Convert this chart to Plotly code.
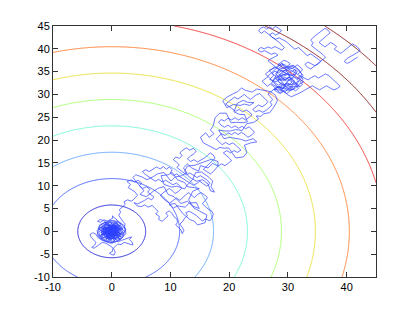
import numpy as np
import plotly.graph_objects as go

# ---- data ----
contour_levels = [5.78, 11.56, 17.34, 23.12, 28.9, 34.68, 40.46, 46.24, 52.02, 57.8]
level_colors = ["rgb(40,40,215)", "rgb(70,95,255)", "rgb(100,145,255)", "rgb(110,245,255)",
                "rgb(140,255,150)", "rgb(195,255,70)", "rgb(255,210,55)", "rgb(255,105,55)",
                "rgb(240,50,50)", "rgb(135,25,25)"]
x_ticks = [-10, 0, 10, 20, 30, 40]
x_ticklabels = ["-10", "0", "10", "20", "30", "40"]
y_ticks = [-10, -5, 0, 5, 10, 15, 20, 25, 30, 35, 40, 45]
y_ticklabels = ["-10", "-5", "0", "5", "10", "15", "20", "25", "30", "35", "40", "45"]

# random-walk path in segments (x, y)
walk_core = [(0,0),(0.5,0.3),(0.2,0.8),(-0.3,0.5),(-0.6,0.9),(-1.0,0.4),(-0.6,-0.1),(-1.1,-0.5),(-0.7,-0.9),
    (-0.2,-0.6),(0.3,-1.0),(0.7,-0.6),(1.2,-0.9),(1.5,-0.4),(1.1,0.1),(1.4,0.6),(0.9,0.9),(0.5,1.4),(0.0,1.1),
    (-0.5,1.5),(-0.9,1.1),(-1.4,1.3),(-1.7,0.8),(-1.3,0.2),(-1.8,-0.1),(-1.5,-0.7),(-1.9,-1.1),(-1.3,-1.4),
    (-0.8,-1.6),(-0.4,-1.2),(0.1,-1.5),(0.5,-1.9),(0.9,-1.4),(1.4,-1.6),(1.8,-1.1),(2.0,-0.5),(1.7,0.1),
    (1.9,0.7),(1.5,1.2),(1.0,1.5),(0.6,1.9),(0.1,1.6),(-0.3,2.0),(-0.8,1.7),(-1.2,2.0),(-1.6,1.6),(-2.1,1.2),
    (-2.3,0.6),(-1.9,0.3),(-2.2,-0.3),(-2.0,-0.9),(-1.6,-1.5),(-1.1,-1.9),(-0.6,-2.0),(-0.1,-1.8),(0.3,-1.3),
    (0.0,-0.8),(0.4,-0.4),(0.0,-0.1),(-0.4,-0.4),(-0.8,-0.2),(-0.5,0.2),(-0.1,0.4),(0.3,0.0),(0.8,0.2),
    (0.6,-0.2),(1.0,-0.3),(0.8,-1.0),(0.4,-0.7),(-0.1,-1.1),(-0.5,-0.8),(-0.9,-1.2),(-1.3,-0.9),(-1.0,-0.3),
    (-1.4,0.1),(-1.0,0.7),(-0.6,0.5),(-0.2,0.9),(0.3,0.6),(0.7,0.9),(1.1,0.5),(0.8,0.0),(1.3,-0.2),(1.6,0.3),
    (1.2,0.9),(0.7,1.2),(0.2,1.3),(-0.2,1.6),(-0.6,1.3),(-1.0,1.6),(-1.3,0.9),(-1.7,0.4),(-1.5,-0.3),
    (-1.2,-1.1),(-0.7,-1.4),(-0.3,-2.0),(0.2,-2.2),(0.7,-1.8)]

walk_core_tangle = [(-1.2,0.9),(1.5,0.4),(-0.8,-1.3),(0.4,1.7),(1.2,-1.5),(-1.9,0.2),(0.9,1.0),(-0.5,-1.9),
    (-1.6,1.1),(1.8,-0.6),(-0.2,0.3),(-2.1,-1.0),(1.0,1.6),(0.3,-1.1),(-1.1,1.8),(1.6,-1.2),(-1.4,-0.3),
    (0.6,0.8),(-0.7,-0.6),(1.9,0.5),(-0.4,1.2),(-1.8,-1.6),(0.8,-0.4),(-0.1,1.9),(1.3,-0.1),(-1.0,-1.8),
    (0.2,0.5),(-1.5,0.6),(1.4,1.3),(0.0,-1.5),(-2.0,0.9),(1.1,-0.9),(-0.6,0.1),(0.5,-1.6),(-1.3,1.5),
    (1.7,0.9),(-0.9,-0.9),(0.1,1.2),(-1.7,-0.5),(1.2,0.2),(-0.3,-1.4),(0.8,1.9),(-1.1,0.3),(0.6,-0.8),
    (-0.5,1.0),(1.5,-1.8),(-1.2,-1.2),(0.3,0.0),(-0.8,1.4),(1.0,-0.2),(-1.6,-0.8),(0.4,1.4),(1.8,-0.3),
    (-0.2,-0.9),(-1.4,1.0),(0.9,-1.2),(-0.4,0.6),(1.3,0.7),(-1.0,-0.4),(0.0,-1.9),(-1.9,-0.2),(0.7,0.4),
    (-0.6,1.8),(1.6,-0.8),(-1.2,0.0),(0.2,-0.3),(0.7,-1.8)]

walk_core_outer = [(-2.2,0.5),(-1.2,1.9),(0.2,2.3),(1.6,1.7),(2.3,0.4),(1.9,-1.3),(0.6,-2.4),(-1.0,-2.2),
    (-2.3,-1.2),(-2.5,0.2),(-1.6,1.0),(-0.4,2.4),(1.1,2.2),(2.2,1.2),(2.4,-0.5),(1.3,-2.0),(-0.2,-2.5),
    (-1.7,-1.8),(-2.4,-0.5),(-2.0,1.5),(-0.8,2.1),(0.9,1.8),(2.0,0.2),(1.1,-1.2),(-0.4,-1.6),(-1.4,-0.1),
    (-0.5,1.1),(0.9,0.4),(0.2,-0.9),(-1.1,-0.6),(-0.2,0.7),(0.7,-1.8)]

walk_excursions = [(1.1,-2.3),(1.6,-2.0),(2.2,-1.7),(2.8,-1.4),(3.4,-1.2),(3.0,-1.8),(3.5,-2.4),(3.6,-3.0),
    (3.1,-2.8),(2.6,-2.7),(2.1,-2.4),(1.6,-2.9),(1.0,-2.8),(0.6,-3.3),(0.2,-3.8),(0.1,-4.4),(-0.4,-4.8),
    (0.0,-5.1),(0.4,-5.2),(0.6,-4.6),(0.4,-4.0),(0.0,-3.4),(-0.5,-3.0),(-1.0,-2.6),(-1.6,-2.4),(-2.1,-2.8),
    (-2.6,-3.2),(-3.0,-3.7),(-3.4,-3.5),(-2.9,-3.0),(-2.7,-2.4),(-3.1,-1.9),(-3.5,-1.3),(-3.7,-0.7),
    (-3.2,-0.3),(-2.7,-0.6),(-2.4,-1.3),(-1.9,-1.8),(-1.4,-2.1),(-0.9,-2.3),(-0.4,-2.5),(0.1,-2.6),
    (0.5,-2.2),(0.2,-1.6),(-0.2,-1.4),(-0.6,-1.0),(-0.3,-0.3),(0.2,0.2),(0.6,0.5),(0.2,1.0),(-0.4,1.2),
    (-0.9,1.9),(-1.4,2.4),(-2.0,2.6),(-2.4,2.2),(-1.9,2.0),(-1.3,2.5),(-0.7,2.3),(-0.2,2.6),(0.2,2.9),
    (0.1,3.4),(0.5,3.0),(0.9,2.5),(1.2,2.0),(1.6,1.5),(1.2,1.1),(0.9,1.4),(0.5,1.0),(0.1,0.6),(-0.3,0.1),
    (-0.7,-0.5),(-1.2,-0.2),(-0.9,0.3),(-0.4,0.7),(0.0,0.3),(0.4,-0.2),(0.9,-0.6),(1.3,-1.2),(1.7,-0.8),
    (2.1,-0.2),(2.4,0.4),(2.1,1.0),(2.3,1.6),(1.9,2.2),(1.5,2.8),(1.2,3.5),(1.5,4.2),(1.3,4.8),(1.8,5.3),
    (2.3,5.9),(2.1,6.5),(2.7,6.9),(3.4,6.6),(3.9,7.2),(4.4,7.9)]

walk_lower_band = [(4.0,8.6),(3.4,9.1),(2.8,9.6),(3.2,10.3),(2.6,10.9),(3.3,11.3),(3.9,10.8),(4.5,11.2),
    (5.1,10.6),(4.7,10.0),(5.3,9.4),(5.9,9.8),(6.5,9.2),(6.1,8.6),(6.7,8.1),(7.2,7.5),(6.8,6.9),(6.2,7.3),
    (5.6,6.8),(5.0,6.4),(4.4,6.0),(3.8,6.3),(4.3,5.6),(5.0,5.4),(5.6,5.8),(6.2,5.3),(6.9,5.7),(7.4,5.0),
    (7.9,4.4),(7.5,3.8),(8.1,3.3),(8.0,2.6),(8.6,2.2),(9.1,2.8),(9.6,3.4),(9.2,4.0),(9.8,4.5),(10.3,3.9),
    (10.6,3.2),(11.1,2.7),(11.2,2.0),(10.9,1.4),(11.3,0.8),(11.8,0.3),(12.0,-0.5),(12.3,0.2),(12.0,0.9),
    (11.6,1.6),(12.1,2.2),(12.4,2.9),(12.9,3.4),(12.6,4.1),(13.2,4.4),(13.8,4.0),(14.4,3.5),(14.9,2.9),
    (15.4,2.3),(16.0,2.7),(16.7,2.3),(17.1,3.0),(17.3,3.8),(17.0,4.5),(16.4,4.9),(15.9,5.5),(15.4,6.1),
    (15.9,6.7),(16.3,7.4),(15.8,8.0),(15.2,8.5),(14.6,8.1),(14.1,7.4),(13.6,7.9),(13.1,8.5),(12.6,8.0),
    (12.1,7.4),(11.6,6.8),(11.0,7.3),(10.4,6.8),(9.9,6.2),(9.3,6.6),(8.8,7.2),(8.3,7.8),(8.7,8.4),(9.2,8.9),
    (9.8,9.4),(10.3,8.9),(10.8,8.3),(11.4,8.8),(11.9,9.4),(11.5,10.1),(11.0,10.6),(10.4,10.2),(9.8,10.7),
    (9.2,11.2),(8.6,10.8),(8.0,11.4),(7.4,11.0),(6.8,11.5),(6.3,12.1),(5.7,12.5),(5.2,13.1),(5.8,13.5),
    (6.4,13.1),(7.0,13.6),(7.6,14.1),(8.2,13.7),(8.8,14.2),(9.3,13.6),(9.8,14.1),(10.3,13.5),(10.0,12.8),
    (10.5,12.2),(11.1,12.6),(11.6,12.0),(12.2,11.5),(12.8,11.1),(13.4,10.6),(13.9,10.1),(14.5,10.5),
    (15.0,11.0),(15.6,10.4),(16.2,9.9),(16.7,10.5),(16.3,11.2),(15.7,11.7),(15.1,12.2),(14.5,11.8),
    (13.9,12.3),(13.3,12.8),(12.7,12.4),(12.1,12.9),(11.6,13.5),(11.1,14.0),(11.5,14.6),(11.0,15.2),
    (10.5,15.7),(10.9,16.3),(11.5,16.0),(12.0,16.6),(11.6,17.2),(12.1,17.8),(12.7,18.3),(13.3,17.8),
    (13.9,18.2),(14.4,17.6),(14.0,17.0),(13.4,16.5),(12.9,15.9),(13.4,15.3),(14.0,15.7),(14.6,15.2),
    (15.2,15.6),(15.8,16.1),(16.3,16.6),(16.8,17.2),(17.3,16.7),(17.6,16.0),(17.1,15.4),(16.6,14.8),
    (16.1,14.2),(15.6,13.6),(16.2,13.1),(16.8,12.6),(17.3,13.1),(17.7,13.7),(18.1,14.3)]

walk_lower_revisit = [(17.2,14.9),(16.4,13.9),(15.1,14.4),(14.8,13.2),(13.6,13.9),(12.9,14.8),(12.2,13.9),
    (12.8,12.9),(11.9,12.2),(10.8,11.9),(10.1,11.0),(9.4,12.1),(8.9,12.9),(7.8,12.6),(7.1,12.0),(6.0,11.3),
    (5.2,11.9),(4.1,12.4),(3.6,11.8),(4.6,10.2),(5.5,8.9),(4.8,8.1),(5.9,7.6),(7.1,8.8),(8.0,9.5),(8.9,9.8),
    (9.6,8.1),(10.6,7.6),(11.8,6.1),(12.9,6.6),(13.7,5.6),(14.9,5.0),(14.4,6.3),(13.2,6.2),(12.5,5.3),
    (11.2,5.6),(10.5,5.1),(9.8,5.9),(10.8,6.1),(11.5,4.9),(12.1,3.9),(13.3,2.6),(14.1,2.2),(14.6,1.4),
    (15.9,1.9),(16.2,3.6),(15.1,4.3),(14.0,5.1),(13.1,6.9),(13.8,8.8),(14.9,9.4),(14.1,9.6),(12.9,9.8),
    (12.4,10.7),(11.2,11.3),(10.3,12.9),(9.6,12.4),(8.4,12.2),(8.9,10.3),(10.2,9.7),(11.1,9.9),(12.4,9.3),
    (12.9,10.2),(13.8,11.4),(14.3,12.9),(15.3,13.0),(16.6,11.8),(17.2,11.0),(16.9,9.8),(17.5,8.6),
    (16.8,8.9),(16.4,10.4),(15.5,11.3),(14.4,11.0),(13.2,11.9),(12.4,13.2),(12.9,14.3),(14.2,14.5),
    (15.2,14.9),(16.1,15.4),(17.0,15.8),(18.1,15.3),(18.1,14.3)]

walk_mid_band = [(18.7,14.8),(19.3,14.4),(19.8,15.0),(20.4,15.5),(20.0,16.1),(19.5,16.6),(19.0,17.2),
    (19.6,17.7),(20.2,17.2),(20.8,17.7),(21.4,17.3),(22.0,17.8),(21.6,18.4),(21.1,18.9),(20.6,19.4),
    (20.0,19.0),(19.4,19.5),(18.8,19.0),(18.3,19.6),(17.8,20.2),(18.2,20.8),(18.7,21.4),(19.3,21.0),
    (19.8,21.6),(20.4,21.2),(21.0,21.7),(21.5,21.2),(22.1,21.7),(22.7,21.2),(23.2,20.6),(23.8,21.1),
    (24.3,21.7),(23.9,22.3),(23.4,22.9),(22.8,22.5),(22.2,23.0),(21.6,22.6),(21.0,23.1),(20.4,22.7),
    (19.8,23.3),(19.2,22.8),(18.6,23.3),(18.2,23.9),(18.6,24.5),(19.2,24.2),(19.8,24.8),(20.4,24.4),
    (21.0,24.9),(21.6,24.4),(22.2,24.9),(22.8,24.4),(23.4,24.9),(23.9,25.5),(23.5,26.1),(22.9,26.6),
    (22.3,26.2),(21.7,26.7),(21.1,26.3),(20.5,26.8),(19.9,27.3),(19.4,27.9),(19.9,28.4),(20.4,28.9),
    (20.9,29.4),(21.5,29.0),(22.1,29.5),(22.6,30.0),(23.1,29.4),(23.6,28.9),(24.1,29.4),(24.6,29.9),
    (25.2,30.2),(25.7,29.6),(26.2,29.0),(26.6,28.4),(26.2,27.8),(25.6,27.3),(25.0,27.7),(24.5,27.2),
    (24.0,26.7),(24.5,26.2),(25.1,26.5),(25.7,26.1),(26.3,26.5),(26.8,27.1),(27.3,27.7),(27.0,28.3),
    (27.4,28.9),(27.0,29.5),(26.6,30.1),(27.1,30.6)]

walk_mid_revisit = [(25.9,30.9),(24.7,31.2),(23.9,30.5),(22.8,30.9),(22.1,31.4),(21.4,30.6),(20.6,30.1),
    (19.6,29.4),(18.9,28.6),(19.6,27.1),(20.7,27.8),(21.9,27.6),(22.6,27.9),(23.5,27.6),(24.2,28.2),
    (23.1,28.3),(22.4,28.7),(21.4,28.1),(20.8,26.2),(21.8,25.6),(22.6,25.6),(23.1,24.0),(22.3,23.8),
    (21.3,23.9),(20.3,23.8),(19.5,25.9),(18.4,25.9),(17.6,24.9),(17.3,23.2),(16.8,22.2),(17.4,21.4),
    (16.6,20.6),(16.0,21.6),(15.1,20.6),(15.6,19.4),(16.9,18.6),(17.8,17.9),(18.4,18.4),(19.2,18.2),
    (19.9,18.3),(21.1,16.1),(22.4,16.3),(23.0,17.2),(22.6,18.9),(23.7,19.4),(24.7,19.6),(24.1,20.3),
    (22.8,19.8),(21.9,20.2),(21.0,20.4),(20.1,20.6),(19.1,20.3),(18.2,22.2),(19.2,22.0),(20.2,22.0),
    (21.1,22.3),(22.2,22.1),(23.0,23.6),(24.2,23.9),(25.0,24.6),(24.6,25.3),(25.4,25.2),(25.9,25.8),
    (26.9,26.0),(27.6,27.2),(28.2,28.6),(27.9,29.8),(27.1,30.6)]

walk_cluster_tangle = [(28.3,31.8),(29.2,31.3),(29.6,32.4),(30.7,32.1),(31.1,33.0),(30.2,33.7),(29.4,33.2),
    (28.6,34.0),(29.7,34.5),(30.8,34.2),(31.4,35.3),(30.4,35.9),(29.5,35.2),(28.4,35.4),(27.9,34.5),
    (28.7,33.5),(28.0,32.8),(26.9,33.3),(27.6,34.2),(26.8,35.3),(27.9,35.9),(28.9,36.7),(29.7,36.0),
    (30.9,36.4),(31.9,35.4),(32.4,34.3),(31.6,33.6),(32.7,32.8),(31.9,32.2),(31.3,31.4),(30.4,30.9),
    (29.5,31.0),(28.6,30.4),(28.0,31.2),(27.6,31.1),
    (29.0,32.0),(27.8,33.6),(30.2,34.8),(31.8,33.0),(29.4,30.5),(27.2,32.4),(28.6,35.6),(31.0,36.2),
    (32.6,34.2),(30.8,31.0),(28.3,31.6),(26.6,34.0),(29.0,36.9),(30.5,33.5),(32.0,31.8),(29.8,31.6),
    (28.2,34.0),(29.9,35.7),(31.5,34.6),(30.0,32.9),(28.9,30.9),(27.6,31.1)]

walk_cluster = [(28.1,30.6),(28.7,30.2),(29.3,30.7),(29.8,30.2),(30.3,30.7),(30.8,31.2),
    (31.3,30.8),(31.8,31.3),(31.5,31.9),(31.0,32.4),(30.4,32.1),(29.9,32.6),(29.4,32.1),(28.9,32.5),
    (28.4,32.0),(27.9,32.5),(27.4,33.0),(27.9,33.5),(28.5,33.2),(29.0,33.7),(29.6,33.3),(30.1,33.8),
    (30.7,33.4),(31.2,33.9),(31.7,33.4),(32.2,33.9),(32.6,33.3),(32.1,32.8),(32.5,32.2),(32.0,31.7),
    (31.5,32.3),(30.9,32.8),(30.4,33.3),(29.8,32.9),(29.3,33.4),(28.8,33.0),(28.3,33.6),(27.8,34.1),
    (27.3,34.6),(27.8,35.1),(28.4,34.7),(28.9,35.2),(29.5,34.8),(30.0,35.3),(30.6,34.9),(31.1,35.4),
    (31.6,35.0),(31.2,34.4),(30.6,34.1),(30.1,34.5),(29.5,34.1),(29.0,34.6),(28.5,34.2),(29.0,33.9),
    (29.6,33.7),(30.2,33.2),(30.7,32.7),(30.2,32.2),(29.6,31.7),(29.0,31.2),(28.5,31.7),(28.0,31.3),
    (27.5,31.8),(27.0,32.3),(26.5,31.8),(26.0,32.3),(25.6,32.9),(26.1,33.4),(26.6,33.9),(26.2,34.5),
    (26.7,35.0),(27.2,35.5),(27.7,36.0),(28.3,35.6),(28.8,36.1),(29.4,35.7),(29.9,36.2),(30.4,36.7),
    (29.9,37.2),(29.3,37.5),(28.8,37.0),(28.3,36.6),(28.8,36.3),(29.4,36.6),(30.0,36.0),(30.5,35.6),
    (31.1,36.0),(31.6,36.5),(32.1,36.0),(32.5,35.4),(32.1,34.9),(31.6,34.4),(32.2,34.0),(32.8,33.6),
    (33.4,33.2),(34.0,33.7),(34.6,34.1),(35.2,33.6),(35.8,34.1),(36.4,34.5),(37.0,34.1),(37.5,33.5),
    (37.9,32.9),(38.5,32.4),(38.9,31.8),(38.4,31.3),(37.8,31.0),(37.2,31.4),(36.6,31.9),(36.0,31.5),
    (35.4,31.0),(34.8,31.4),(34.2,31.9),(33.6,31.5),(33.0,31.0),(32.4,30.6),(31.8,30.2),(31.2,29.8),
    (30.6,29.5),(30.0,29.9),(29.5,30.4),(29.0,30.8),(28.6,31.4),(29.1,31.9),(29.7,32.3),(30.3,31.8),
    (30.8,31.5),(30.3,31.2),(29.8,31.5),(29.3,32.0),(28.8,32.4),(28.3,32.9),(28.8,33.4),(29.4,33.0),
    (29.9,33.5),(30.4,34.0),(29.9,34.4),(29.3,34.8),(28.7,35.3),(28.1,35.8),(27.6,36.4),(27.1,36.9),
    (26.6,37.4),(27.1,37.8),(27.7,38.2),(28.3,38.6)]

walk_top = [(27.8,39.1),(27.2,38.8),(26.6,39.2),(26.0,39.6),(25.4,39.3),(24.9,39.8),(25.4,40.3),(26.0,40.0),
    (26.6,40.4),(27.2,40.1),(27.8,40.5),(28.4,40.1),(29.0,39.7),(29.4,40.3),(29.0,40.9),(28.5,41.4),
    (28.0,41.9),(27.5,42.4),(27.0,42.9),(26.5,43.4),(26.0,43.9),(25.5,43.4),(25.0,43.9),(25.3,44.5),
    (25.9,44.8),(26.4,44.3),(26.9,44.8),(27.4,44.4),(27.9,44.9),(28.4,44.5),(28.9,44.0),(28.5,43.4),
    (27.9,43.0),(27.4,43.5),(26.9,43.1),(27.3,42.5),(27.9,42.1),(28.5,42.4),(29.1,42.0),(29.7,41.6),
    (30.2,41.0),(30.7,40.4),(31.2,39.9),(31.8,40.3),(32.3,39.7),(32.8,39.1),(33.3,38.5),(33.9,38.9),
    (34.5,38.4),(35.0,37.8),(35.6,37.3),(35.2,36.7),(34.6,36.3),(34.0,36.7),(33.4,37.1),(32.9,36.6),
    (33.3,36.0),(33.9,35.6),(34.4,36.1),(34.9,36.6),(35.4,37.1),(35.9,37.6),(36.4,38.1),(36.0,38.7),
    (35.5,39.2),(35.0,39.7),(34.5,40.2),(34.0,40.7),(34.3,41.3),(33.9,41.9),(34.3,42.5),(34.8,43.0),
    (35.3,43.5),(35.8,44.0),(36.3,44.5),(36.8,44.1),(37.2,43.5),(36.7,43.0),(36.2,42.5),(35.7,42.0),
    (35.3,41.4),(35.8,40.9),(36.3,40.4),(36.8,40.9),(37.3,41.4),(37.8,41.0),(38.3,40.5),(37.9,39.9),
    (38.4,39.4),(39.0,39.0),(39.5,39.5),(40.0,40.0),(40.5,40.6),(41.0,41.1),(41.5,40.7),(42.0,40.2),
    (42.3,39.6),(41.8,39.1),(41.2,38.7),(40.6,38.3),(40.0,37.8),(39.6,37.2),(40.1,36.8),(40.7,37.2),
    (41.3,37.7),(41.9,38.2)]

walk = (walk_core + walk_core_tangle + walk_core_outer + walk_excursions + walk_lower_band
        + walk_lower_revisit + walk_mid_band + walk_mid_revisit + walk_cluster_tangle + walk_cluster + walk_top)
walk_x = [p[0] for p in walk]
walk_y = [p[1] for p in walk]

# ---- contour field (distance from the origin) ----
gx = np.linspace(-10, 45, 441)
gy = np.linspace(-10, 45, 441)
GX, GY = np.meshgrid(gx, gy)
Z = np.sqrt(GX ** 2 + GY ** 2)

n = len(contour_levels)
colorscale = [[i / (n - 1), c] for i, c in enumerate(level_colors)]

fig = go.Figure()
fig.add_trace(go.Contour(
    x=gx, y=gy, z=Z,
    contours=dict(coloring="lines", start=contour_levels[0], end=contour_levels[-1],
                  size=contour_levels[1] - contour_levels[0], showlabels=False),
    line=dict(width=1.0),
    colorscale=colorscale, zmin=contour_levels[0], zmax=contour_levels[-1],
    showscale=False, hoverinfo="skip",
))
fig.add_trace(go.Scatter(
    x=walk_x, y=walk_y, mode="lines",
    line=dict(color="rgb(45,65,255)", width=0.7),
    showlegend=False, hoverinfo="skip",
))

axis_common = dict(showgrid=False, zeroline=False, showline=True, mirror="ticks",
                   linecolor="#333333", linewidth=1, ticks="inside", ticklen=5,
                   tickcolor="#333333",
                   tickfont=dict(family="Liberation Sans, Arial", size=11, color="black"))
fig.update_layout(
    width=407, height=304,
    margin=dict(l=45, r=39, t=15, b=35),
    paper_bgcolor="white", plot_bgcolor="white",
    showlegend=False,
    xaxis=dict(range=[-10, 45], tickvals=x_ticks, ticktext=x_ticklabels, **axis_common),
    yaxis=dict(range=[-10, 45], tickvals=y_ticks, ticktext=y_ticklabels, **axis_common),
)
fig.write_html("out.html")
